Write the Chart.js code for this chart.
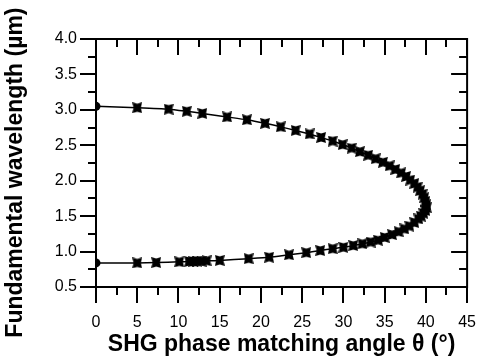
<!DOCTYPE html>
<html>
<head>
<meta charset="utf-8">
<script src="https://cdn.jsdelivr.net/npm/chart.js@4.4.1/dist/chart.umd.min.js"></script>
<style>
  html, body { margin: 0; padding: 0; background: #fff; }
  #wrap { width: 486px; height: 360px; }
</style>
</head>
<body>
<div id="wrap"><canvas id="c" width="486" height="360"></canvas></div>
<script>
// lower branch: angle (deg) / fundamental wavelength (um), from 0 deg up to the turn
const lowerAngle = [0, 5.0, 7.3, 10.1, 11.3, 11.8, 12.3, 12.8, 13.4, 15.0, 18.5, 21.0, 23.4, 25.5, 27.2, 28.7,
  30.0, 31.2, 32.3, 33.3, 34.2, 35.0, 35.9, 36.7, 37.4, 38.0, 38.6, 39.1, 39.4, 39.7];
const lowerWl = [0.84, 0.84, 0.845, 0.855, 0.86, 0.86, 0.865, 0.865, 0.87, 0.875, 0.90, 0.92, 0.955, 0.985, 1.015, 1.04,
  1.06, 1.085, 1.11, 1.135, 1.16, 1.20, 1.24, 1.28, 1.32, 1.36, 1.41, 1.46, 1.50, 1.54];

// upper branch: from the turn back to 0 deg
const upperAngle = [39.95, 40.1, 40.05, 39.95, 39.8, 39.6, 39.3, 39.0, 38.6, 38.1, 37.6, 37.0, 36.3, 35.6,
  34.8, 33.9, 33.0, 32.0, 31.0, 29.9, 28.7, 27.3, 25.9, 24.2, 22.4, 20.5, 18.3, 15.9, 12.9, 11.0, 8.8, 5.0, 0];
const upperWl = [1.58, 1.62, 1.66, 1.71, 1.76, 1.81, 1.86, 1.91, 1.96, 2.01, 2.06, 2.11, 2.16, 2.21,
  2.26, 2.31, 2.36, 2.41, 2.46, 2.51, 2.56, 2.61, 2.66, 2.71, 2.76, 2.81, 2.86, 2.90, 2.95, 2.98, 3.01, 3.03, 3.05];

const xMin = 0, xMax = 45, xStep = 5;
const yMin = 0.5, yMax = 4.0, yStep = 0.5;

// path through both branches
const points = lowerAngle.map((a, i) => ({ x: a, y: lowerWl[i] }))
  .concat(upperAngle.map((a, i) => ({ x: a, y: upperWl[i] })));

// bow-tie marker (square with notched sides)
const mark = document.createElement('canvas');
mark.width = 10; mark.height = 11;
(() => {
  const g = mark.getContext('2d');
  g.fillStyle = '#000';
  g.beginPath();
  g.moveTo(0, 0); g.lineTo(5, 1.4); g.lineTo(10, 0); g.lineTo(8.6, 5.5);
  g.lineTo(10, 11); g.lineTo(5, 9.6); g.lineTo(0, 11); g.lineTo(1.4, 5.5);
  g.closePath();
  g.fill();
})();

const styles = points.map((p, i) => (i === 0 || i === points.length - 1) ? 'circle' : mark);

// frame + major/minor ticks on all four sides
const frameTicks = {
  id: 'frameTicks',
  beforeDatasetsDraw(chart) {
    const { ctx, chartArea: a, scales: { x, y } } = chart;
    ctx.save();
    ctx.strokeStyle = '#000';
    ctx.lineWidth = 2;
    ctx.strokeRect(a.left, a.top, a.right - a.left, a.bottom - a.top);
    ctx.beginPath();
    for (let v = xMin; v <= xMax + 1e-6; v += xStep / 2) {
      const px = Math.round(x.getPixelForValue(v));
      const len = Math.abs(v / xStep - Math.round(v / xStep)) < 1e-6 ? 16 : 8;
      ctx.moveTo(px, a.bottom); ctx.lineTo(px, a.bottom + len);
      ctx.moveTo(px, a.top); ctx.lineTo(px, a.top + len);
    }
    for (let v = yMin; v <= yMax + 1e-6; v += yStep / 2) {
      const py = Math.round(y.getPixelForValue(v));
      const len = Math.abs(v / yStep - Math.round(v / yStep)) < 1e-6 ? 16 : 8;
      ctx.moveTo(a.left, py); ctx.lineTo(a.left - len, py);
      ctx.moveTo(a.right, py); ctx.lineTo(a.right - len, py);
    }
    ctx.stroke();
    ctx.restore();
  }
};

Chart.defaults.font.family = '"Liberation Sans", Arial, sans-serif';
Chart.defaults.color = '#000';

new Chart(document.getElementById('c'), {
  type: 'line',
  data: {
    datasets: [{
      data: points,
      borderColor: '#000',
      backgroundColor: '#000',
      borderWidth: 1.5,
      tension: 0.2,
      pointStyle: styles,
      pointRadius: 4.5,
      pointBorderWidth: 0,
      pointBackgroundColor: '#000'
    }]
  },
  options: {
    responsive: false,
    animation: false,
    layout: { padding: { top: 39, right: 14, bottom: 2, left: 2 } },
    plugins: { legend: { display: false }, tooltip: { enabled: false } },
    scales: {
      x: {
        type: 'linear',
        min: xMin, max: xMax,
        grid: { drawOnChartArea: false, tickLength: 16, color: 'transparent' },
        border: { display: false },
        ticks: { stepSize: xStep, padding: 10, maxRotation: 0, font: { size: 16 } },
        title: { display: true, text: 'SHG phase matching angle θ (°)', font: { size: 23, weight: 'bold' }, padding: 0 },
        afterFit(s) { s.height = 71; }
      },
      y: {
        type: 'linear',
        min: yMin, max: yMax,
        grid: { drawOnChartArea: false, tickLength: 16, color: 'transparent' },
        border: { display: false },
        ticks: { stepSize: yStep, padding: 3, font: { size: 16 }, callback: v => v.toFixed(1) },
        // trailing spaces push the rotated title down a little, as in the original
        title: { display: true, text: 'Fundamental wavelength (µm)\u00a0\u00a0\u00a0', font: { size: 23, weight: 'bold' }, padding: 0 },
        afterFit(s) { s.width = 94; }
      }
    }
  },
  plugins: [frameTicks]
});
</script>
</body>
</html>
